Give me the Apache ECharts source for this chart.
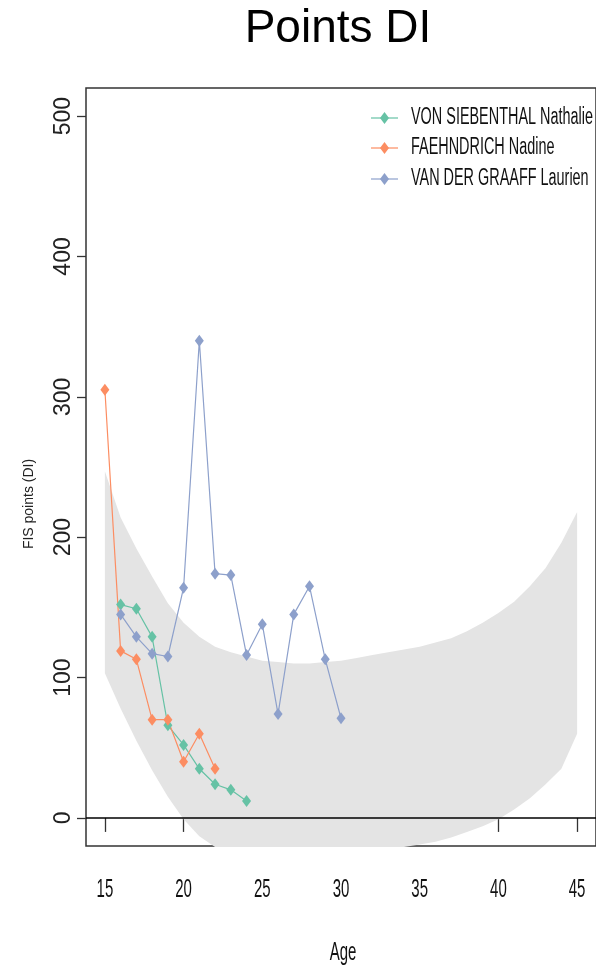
<!DOCTYPE html>
<html>
<head>
<meta charset="utf-8">
<script src="https://cdn.jsdelivr.net/npm/echarts@6/dist/echarts.min.js"></script>
<style>
  html, body { margin: 0; padding: 0; background: #fff; }
  #chart { width: 596px; height: 966px; }
</style>
</head>
<body>
<div id="chart"></div>
<script>
// Reference band (expected range of FIS DI points by age)
const bandAges  = [15, 16, 17, 18, 19, 20, 21, 22, 23, 24, 25, 26, 27, 28, 29, 30,
                   31, 32, 33, 34, 35, 36, 37, 38, 39, 40, 41, 42, 43, 44, 45];
const bandUpper = [247, 214, 192, 172, 153, 139, 129, 122, 118, 115, 112, 111, 110, 110, 111, 112,
                   114, 116, 118, 120, 122, 125, 128, 133, 139, 146, 154, 165, 178, 196, 218];
const bandLower = [103, 78, 55, 34, 15, -1, -13, -21, -25, -28, -30, -31, -32, -32, -31, -30,
                   -28, -26, -24, -22, -19, -17, -14, -10, -6, -1, 6, 14, 24, 35, 60];

// Athletes
const athleteNames = ['VON SIEBENTHAL Nathalie', 'FAEHNDRICH Nadine', 'VAN DER GRAAFF Laurien'];
const athleteColors = ['#66C2A5', '#FC8D62', '#8DA0CB'];

const agesSiebenthal   = [16, 17, 18, 19, 20, 21, 22, 23, 24];
const pointsSiebenthal = [152, 149, 129, 66, 52, 35, 24, 20, 12];

const agesFaehndrich   = [15, 16, 17, 18, 19, 20, 21, 22];
const pointsFaehndrich = [305, 119, 113, 70, 70, 40, 60, 35];

const agesVanDerGraaff   = [16, 17, 18, 19, 20, 21, 22, 23, 24, 25, 26, 27, 28, 29, 30];
const pointsVanDerGraaff = [145, 129, 117, 115, 164, 340, 174, 173, 116, 138, 74, 145, 165, 113, 71];

// Axis ticks and labels
const xTicks = [15, 20, 25, 30, 35, 40, 45];
const xTickLabels = ['15', '20', '25', '30', '35', '40', '45'];
const yTicks = [0, 100, 200, 300, 400, 500];

const SANS = "'Liberation Sans', Arial, sans-serif";
const CONDENSE = 0.6;   // horizontal squeeze applied to the condensed texts

const pair = (xs, ys) => xs.map((x, i) => [x, ys[i]]);
const athleteData = [
  pair(agesSiebenthal, pointsSiebenthal),
  pair(agesFaehndrich, pointsFaehndrich),
  pair(agesVanDerGraaff, pointsVanDerGraaff)
];

const chart = echarts.init(document.getElementById('chart'), null, { renderer: 'canvas' });

// grey band polygon, kept inside the plot box at the bottom
const bandSeries = {
  type: 'custom',
  name: 'band',
  silent: true,
  z: 1,
  data: bandAges.map((a, i) => [a, bandLower[i], bandUpper[i]]),
  encode: { x: 0, y: [1, 2] },
  renderItem: function (params, api) {
    if (params.dataIndex !== 0) return null;
    const cs = params.coordSys;
    const floor = cs.y + cs.height + 1;
    const pts = [];
    for (let i = 0; i < bandAges.length; i++) {
      pts.push(api.coord([bandAges[i], bandUpper[i]]));
    }
    for (let i = bandAges.length - 1; i >= 0; i--) {
      const p = api.coord([bandAges[i], bandLower[i]]);
      p[1] = Math.min(p[1], floor);
      pts.push(p);
    }
    return { type: 'polygon', shape: { points: pts }, style: { fill: '#e4e4e4' } };
  },
  markLine: {
    silent: true,
    symbol: ['none', 'none'],
    label: { show: false },
    lineStyle: { color: '#000', width: 1.6, type: 'solid' },
    data: [{ yAxis: 0 }]
  }
};

// condensed x tick labels, placed through the x scale
const xLabelSeries = {
  type: 'custom',
  name: 'xlabels',
  silent: true,
  clip: false,
  data: xTicks.map(v => [v, -20]),
  encode: { x: 0, y: 1 },
  renderItem: function (params, api) {
    const p = api.coord([api.value(0), api.value(1)]);
    return {
      type: 'text',
      x: p[0],
      y: p[1] + 44,
      scaleX: CONDENSE,
      style: {
        text: xTickLabels[params.dataIndex],
        fontFamily: SANS, fontSize: 25, fill: '#111',
        align: 'center', verticalAlign: 'middle'
      }
    };
  }
};

const lineSeries = athleteNames.map((name, k) => ({
  type: 'line',
  name: name,
  data: athleteData[k],
  z: 6,
  symbol: 'diamond',
  symbolSize: [9, 12],
  itemStyle: { color: athleteColors[k] },
  lineStyle: { color: athleteColors[k], width: 1.2 }
}));

// legend rows: line + diamond key and condensed label
const legendRowY = [118, 148, 179];
const legendItems = [];
athleteNames.forEach((name, k) => {
  const y = legendRowY[k];
  legendItems.push({
    type: 'group',
    children: [
      { type: 'line', shape: { x1: 371, y1: y, x2: 398, y2: y },
        style: { stroke: athleteColors[k], lineWidth: 1.2 } },
      { type: 'polygon', shape: { points: [[384.5, y - 6], [389, y], [384.5, y + 6], [380, y]] },
        style: { fill: athleteColors[k] } },
      { type: 'text', x: 411, y: y, scaleX: 0.627,
        style: { text: name, fontFamily: SANS, fontSize: 23, fill: '#111', align: 'left', verticalAlign: 'middle' } }
    ]
  });
});

chart.setOption({
  animation: false,
  backgroundColor: '#fff',
  title: {
    text: 'Points DI',
    left: 338,
    top: 6,
    textAlign: 'center',
    padding: 0,
    textStyle: { fontFamily: SANS, fontSize: 46, fontWeight: 'normal', color: '#000' }
  },
  graphic: legendItems.concat([
    { type: 'text', x: 343, y: 953, scaleX: CONDENSE,
      style: { text: 'Age', fontFamily: SANS, fontSize: 25, fill: '#111', align: 'center', verticalAlign: 'middle' } }
  ]),
  grid: {
    left: 86,
    top: 88,
    width: 514,
    height: 758,
    show: true,
    borderColor: '#333',
    borderWidth: 1.5,
    backgroundColor: 'transparent'
  },
  xAxis: {
    type: 'value',
    min: 13.8,
    max: 46.2,
    axisLine: { show: false },
    splitLine: { show: false },
    axisTick: { show: true, customValues: xTicks, length: 14, lineStyle: { color: '#333', width: 1.3 } },
    axisLabel: { show: false }
  },
  yAxis: {
    type: 'value',
    min: -20,
    max: 520,
    name: 'FIS points (DI)',
    nameLocation: 'middle',
    nameRotate: 90,
    nameGap: 50,
    nameTextStyle: { fontFamily: SANS, fontSize: 14, color: '#222', padding: [0, 74, 0, 0] },
    axisLine: { show: false },
    splitLine: { show: false },
    axisTick: { show: true, customValues: yTicks, length: 9, lineStyle: { color: '#333', width: 1.3 } },
    axisLabel: { customValues: yTicks, rotate: 90, fontFamily: SANS, fontSize: 23, color: '#222', margin: 11 }
  },
  series: [bandSeries].concat(lineSeries, [xLabelSeries])
});
</script>
</body>
</html>
